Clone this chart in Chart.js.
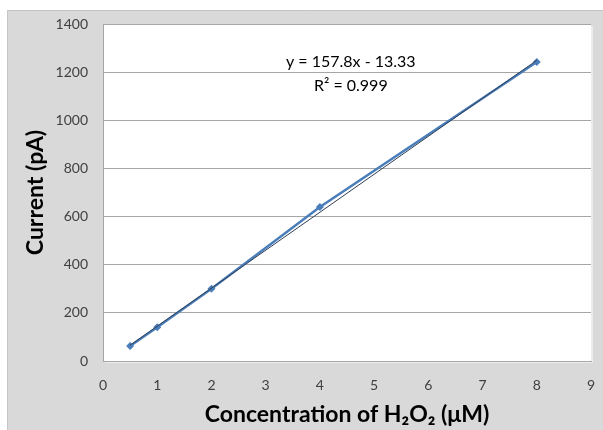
<!DOCTYPE html>
<html>
<head>
<meta charset="utf-8">
<script src="https://cdn.jsdelivr.net/npm/chart.js@4.4.0/dist/chart.umd.min.js"></script>
<style>
  html, body { margin: 0; padding: 0; background: #ffffff; }
  #wrap { width: 603px; height: 430px; position: relative; }
</style>
</head>
<body>
<div id="wrap"><canvas id="c" width="603" height="430"></canvas></div>
<script>
// ---- data ----
const concentration = [0.5, 1, 2, 4, 8];
const current = [62, 140, 300, 640, 1242];
const trendX = [0.5, 8];
const trendY = [65.6, 1249.1];
const xTicks = [0, 1, 2, 3, 4, 5, 6, 7, 8, 9];
const yTicks = [0, 200, 400, 600, 800, 1000, 1200, 1400];
const equationText = ["y = 157.8x - 13.33", "R\u00B2 = 0.999"];
const equationPos = [{ x: 4.57, y: 1242 }, { x: 4.57, y: 1142 }];
const xTitle = "Concentration of H\u2082O\u2082 (\u03BCM)";
const yTitle = "Current (pA)";

const FONT = "Lato, 'Open Sans', 'Liberation Sans', sans-serif";

const bgPlugin = {
  id: 'bg',
  beforeDraw(chart) {
    const ctx = chart.ctx;
    ctx.save();
    ctx.fillStyle = '#ffffff';
    ctx.fillRect(0, 0, chart.width, chart.height);
    ctx.fillStyle = '#d9d9d9';
    ctx.fillRect(7, 10, chart.width - 7, chart.height - 10);
    ctx.strokeStyle = '#c4c4c4';
    ctx.lineWidth = 1;
    ctx.beginPath();
    ctx.moveTo(7.5, chart.height);
    ctx.lineTo(7.5, 10.5);
    ctx.lineTo(chart.width, 10.5);
    ctx.stroke();
    const a = chart.chartArea;
    ctx.fillStyle = '#ececec';
    ctx.fillRect(a.right, a.top + 2, 2, a.bottom - a.top);
    ctx.fillRect(a.left + 2, a.bottom, a.right - a.left, 2);
    ctx.fillStyle = '#ffffff';
    ctx.fillRect(a.left, a.top, a.right - a.left, a.bottom - a.top);
    ctx.restore();
  }
};

const eqPlugin = {
  id: 'eq',
  afterDatasetsDraw(chart) {
    const ctx = chart.ctx;
    const xs = chart.scales.x, ys = chart.scales.y;
    ctx.save();
    ctx.font = "16px " + FONT;
    ctx.fillStyle = '#000000';
    ctx.textAlign = 'center';
    ctx.textBaseline = 'middle';
    equationText.forEach((t, i) => {
      ctx.fillText(t, xs.getPixelForValue(equationPos[i].x), ys.getPixelForValue(equationPos[i].y));
    });
    ctx.restore();
  }
};

new Chart(document.getElementById('c'), {
  type: 'scatter',
  data: {
    datasets: [
      {
        label: 'Current',
        data: concentration.map((x, i) => ({ x: x, y: current[i] })),
        showLine: true,
        borderColor: '#4a7ebb',
        backgroundColor: '#4a7ebb',
        borderWidth: 2.5,
        pointStyle: 'rectRot',
        pointRadius: 4,
        pointBorderWidth: 0,
        order: 2
      },
      {
        label: 'Linear',
        data: trendX.map((x, i) => ({ x: x, y: trendY[i] })),
        showLine: true,
        borderColor: '#2f3f55',
        borderWidth: 1,
        pointRadius: 0,
        order: 1
      }
    ]
  },
  options: {
    responsive: false,
    animation: false,
    devicePixelRatio: 1,
    layout: { padding: { top: 24, right: 12, left: 0, bottom: 0 } },
    plugins: {
      legend: { display: false },
      tooltip: { enabled: false }
    },
    scales: {
      x: {
        type: 'linear',
        min: 0, max: 9,
        afterBuildTicks(s) { s.ticks = xTicks.map(v => ({ value: v })); },
        afterFit(s) { s.height = 69; s.paddingLeft = 0; s.paddingRight = 0; },
        grid: { display: false, drawTicks: false },
        border: { display: true, color: '#a6a6a6', width: 1 },
        ticks: { padding: 16, color: '#404040', font: { family: FONT, size: 14 }, maxRotation: 0,
                 callback: v => String(v) },
        title: {
          display: true, text: xTitle, color: '#000000',
          font: { family: FONT, size: 23, weight: 'bold' },
          padding: { top: 0, bottom: 2 }
        }
      },
      y: {
        type: 'linear',
        min: 0, max: 1400,
        afterBuildTicks(s) { s.ticks = yTicks.map(v => ({ value: v })); },
        afterFit(s) { s.width = 103; s.paddingTop = 0; s.paddingBottom = 0; },
        grid: { display: true, color: '#a6a6a6', lineWidth: 1, drawTicks: false },
        border: { display: true, color: '#a6a6a6', width: 1 },
        ticks: { padding: 15, color: '#404040', font: { family: FONT, size: 14 },
                 callback: v => String(v) },
        title: {
          display: true, text: yTitle, color: '#000000',
          font: { family: FONT, size: 23, weight: 'bold' },
          padding: { top: 22, bottom: 0 }
        }
      }
    }
  },
  plugins: [bgPlugin, eqPlugin]
});
</script>
</body>
</html>
